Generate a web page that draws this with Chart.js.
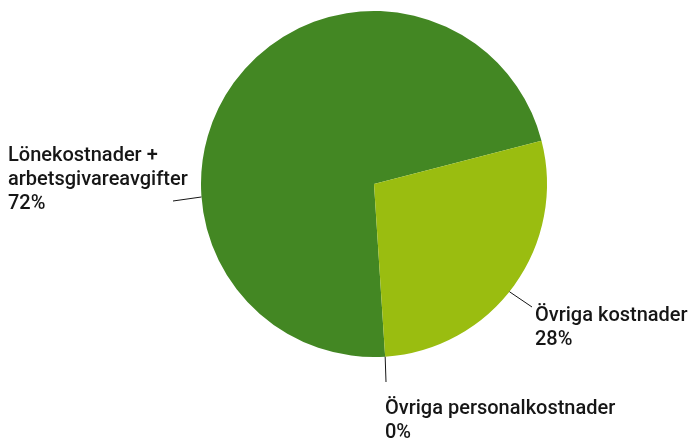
<!DOCTYPE html>
<html>
<head>
<meta charset="utf-8">
<script src="https://cdn.jsdelivr.net/npm/chart.js@4/dist/chart.umd.min.js"></script>
<style>
html,body{margin:0;padding:0;background:#fff;}
#wrap{width:689px;height:440px;position:relative;}
</style>
</head>
<body>
<div id="wrap"><canvas id="c" width="689" height="440"></canvas></div>
<script>
const categories = ["Lönekostnader + arbetsgivareavgifter", "Övriga kostnader", "Övriga personalkostnader"];
const labelLines = [["Lönekostnader +", "arbetsgivareavgifter"], ["Övriga kostnader"], ["Övriga personalkostnader"]];
const values = [72, 28, 0];
const percentLabels = ["72%", "28%", "0%"];
const colors = ["#438723", "#9abd10", "#6a9a1a"];

// label layout: anchor angle on the rim (deg, clockwise from 3 o'clock), leader end offset, text origin offset (px from center)
const labelLayout = [
  {angle: 175.7, end: [-201, 17], text: [-366, -28], align: 'left'},
  {angle: 38.5, end: [158, 123], text: [161, 132], align: 'left'},
  {angle: 86.3, end: [12, 198], text: [11, 225], align: 'left'}
];

const labelPlugin = {
  id: 'pieLabels',
  afterDraw(chart) {
    const ctx = chart.ctx;
    const meta = chart.getDatasetMeta(0);
    const arc = meta.data[0];
    const cx = arc.x, cy = arc.y, r = arc.outerRadius;
    ctx.save();
    ctx.font = '500 20px Roboto';
    ctx.fillStyle = '#161616';
    ctx.textBaseline = 'middle';
    labelLayout.forEach((L, i) => {
      const a = L.angle * Math.PI / 180;
      const sx = cx + r * Math.cos(a), sy = cy + r * Math.sin(a);
      ctx.strokeStyle = '#161616';
      ctx.lineWidth = 1;
      ctx.beginPath();
      ctx.moveTo(sx, sy);
      ctx.lineTo(cx + L.end[0], cy + L.end[1]);
      ctx.stroke();
      const lines = labelLines[i].concat([percentLabels[i]]);
      ctx.textAlign = L.align;
      lines.forEach((t, k) => {
        ctx.fillText(t, cx + L.text[0], cy + L.text[1] + k * 24);
      });
    });
    ctx.restore();
  }
};

new Chart(document.getElementById('c'), {
  type: 'pie',
  data: {
    labels: categories,
    datasets: [{
      data: values,
      backgroundColor: colors,
      borderWidth: 0
    }]
  },
  options: {
    responsive: false,
    animation: false,
    rotation: 176.3,
    layout: {padding: {left: 201, right: 142, top: 11, bottom: 83}},
    plugins: {legend: {display: false}, tooltip: {enabled: false}}
  },
  plugins: [labelPlugin]
});
</script>
</body>
</html>
